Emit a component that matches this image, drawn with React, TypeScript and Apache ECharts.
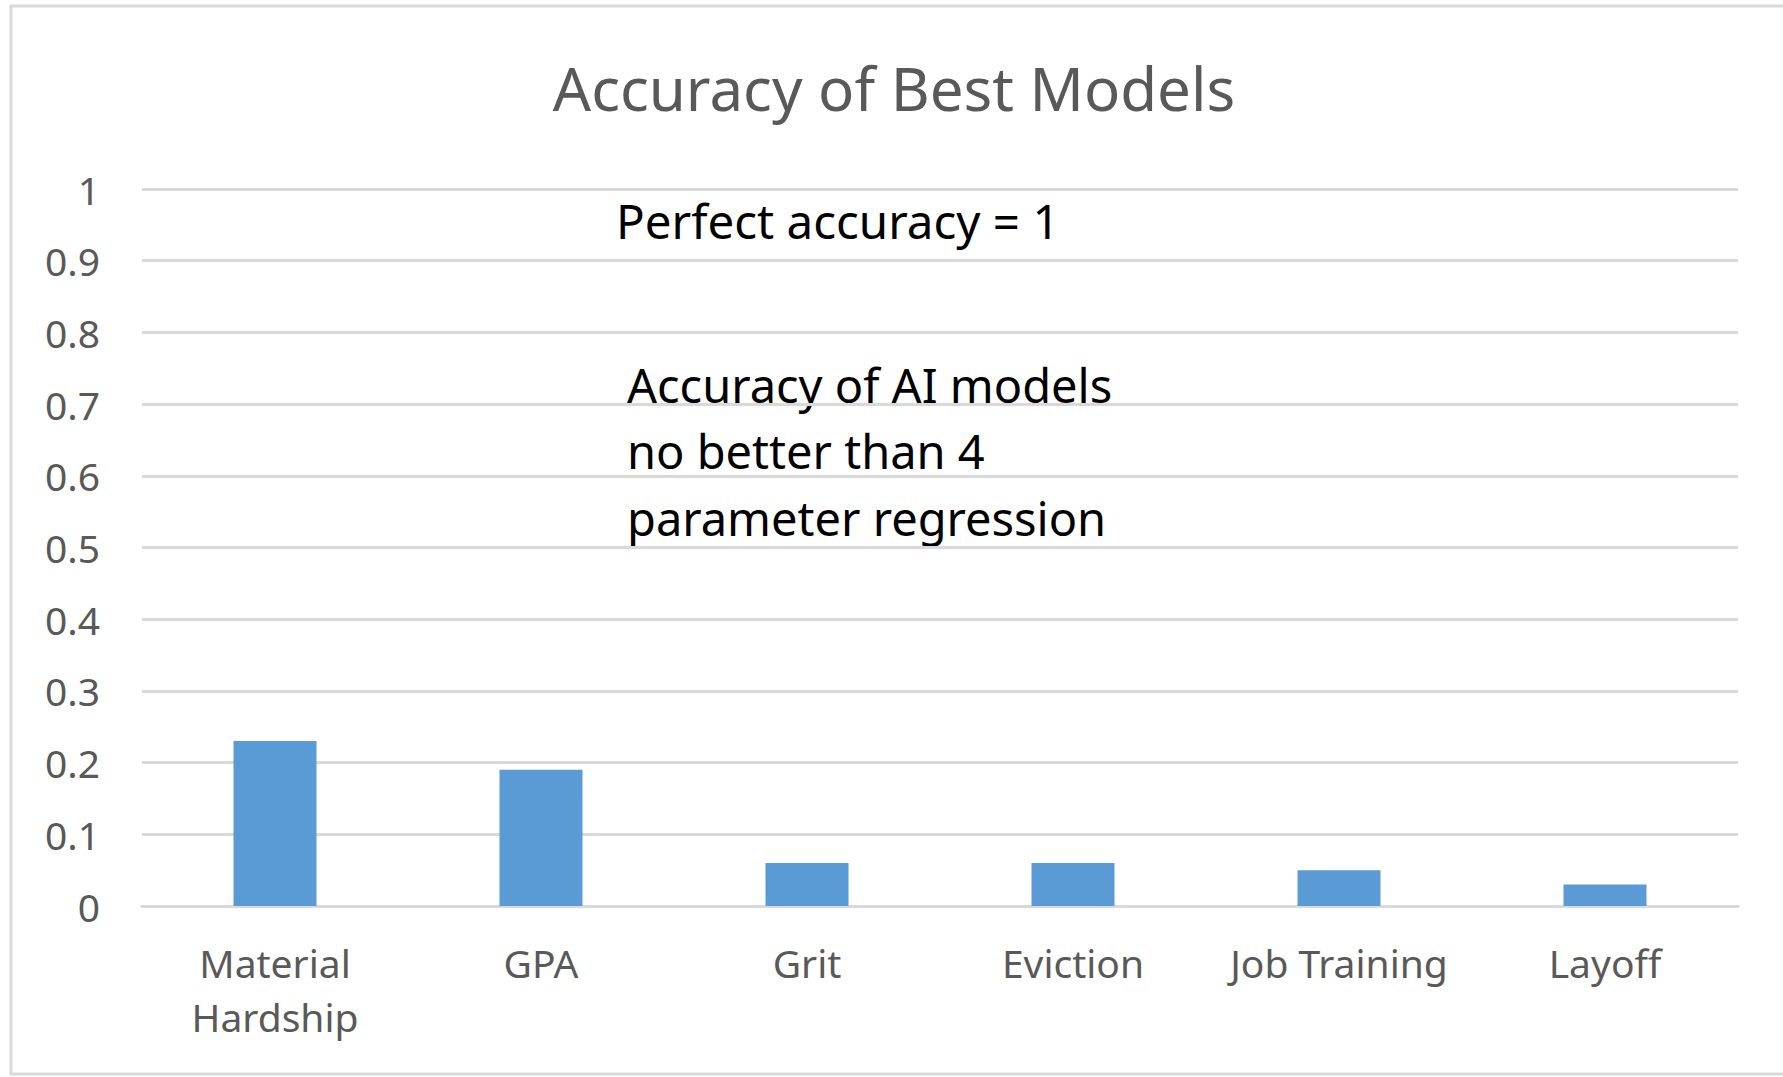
import React, { useEffect, useRef } from "react";
import * as echarts from "echarts";

const categories = ["Material\nHardship", "GPA", "Grit", "Eviction", "Job Training", "Layoff"];
const accuracy = [0.23, 0.19, 0.06, 0.06, 0.05, 0.03];
const titleText = "Accuracy of Best Models";
const noteTop = "Perfect accuracy = 1";
const noteLines = ["Accuracy of AI models", "no better than 4", "parameter regression"];

export default function App() {
  const ref = useRef<HTMLDivElement>(null);
  useEffect(() => {
    const chart = echarts.init(ref.current!, null, { renderer: "svg" });
    const font = "'Noto Sans', sans-serif";
    chart.setOption({
      animation: false,
      backgroundColor: "#ffffff",
      textStyle: { fontFamily: font },
      title: {
        text: titleText,
        left: 889,
        top: 83,
        textAlign: "center",
        textVerticalAlign: "middle",
        textStyle: { fontFamily: font, fontSize: 60, fontWeight: "normal", color: "#595959" },
      },
      grid: { left: 142, right: 45, top: 189, bottom: 171, containLabel: false },
      xAxis: {
        type: "category",
        data: categories,
        axisLine: { lineStyle: { color: "#d9d9d9", width: 3 } },
        axisTick: { show: false },
        axisLabel: {
          color: "#595959",
          fontFamily: font,
          fontSize: 39,
          lineHeight: 54,
          margin: 29,
          interval: 0,
        },
      },
      yAxis: {
        type: "value",
        min: 0,
        max: 1,
        interval: 0.1,
        axisLine: { show: false },
        axisTick: { show: false },
        splitLine: { lineStyle: { color: "#d9d9d9", width: 3 } },
        axisLabel: { color: "#595959", fontFamily: font, fontSize: 39, margin: 42 },
      },
      series: [
        {
          type: "bar",
          data: accuracy,
          barWidth: 83,
          itemStyle: { color: "#5b9bd5" },
        },
      ],
      graphic: [
        {
          type: "rect",
          shape: { x: 11, y: 6, width: 1800, height: 1068 },
          style: { fill: "none", stroke: "#d9d9d9", lineWidth: 3 },
          silent: true,
        },
        {
          type: "text",
          x: 616,
          y: 220,
          style: {
            text: noteTop,
            fontFamily: font,
            fontSize: 47.5,
            fill: "#000000",
            textVerticalAlign: "middle",
          },
        },
        ...noteLines.map((t, i) => ({
          type: "text",
          x: 627,
          y: 384.5 + i * 66.5,
          style: {
            text: t,
            fontFamily: font,
            fontSize: 47,
            fill: "#000000",
            textVerticalAlign: "middle",
          },
        })),
      ],
    });
    return () => chart.dispose();
  }, []);
  return (
    <div
      ref={ref}
      style={{ position: "absolute", left: 0, top: 0, width: 1783, height: 1077 }}
    />
  );
}
